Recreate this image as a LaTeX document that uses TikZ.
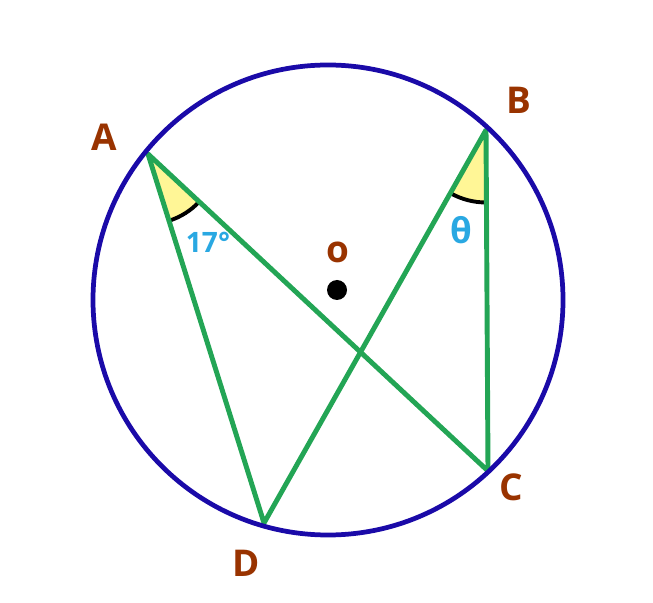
\documentclass[tikz,border=0pt]{standalone}
\usepackage{fontspec}
\setmainfont{Open Sans}
\usetikzlibrary{angles}
\definecolor{ringblue}{RGB}{26,10,168}
\definecolor{chordgreen}{RGB}{35,165,85}
\definecolor{ptbrown}{RGB}{153,51,0}
\definecolor{angblue}{RGB}{41,168,226}
\definecolor{angyellow}{RGB}{255,246,150}
\begin{document}
\begin{tikzpicture}[chord/.style={draw=chordgreen, line width=2.8pt, line join=round},
		ptlabel/.style={text=ptbrown, font=\fontsize{21}{25}\selectfont\bfseries, inner sep=0pt},
		anglabel/.style={text=angblue, font=\fontsize{16}{19}\selectfont\bfseries, inner sep=0pt},
		angmark/.style={draw=black, line width=2.2pt, fill=angyellow, angle radius=1.4cm} ]
	\useasboundingbox (0,0) rectangle (13.06,12.04);
	\coordinate (O) at (6.56,6.04);
	\coordinate (A) at (2.96,8.96);
	\coordinate (B) at (9.72,9.44);
	\coordinate (C) at (9.76,2.62);
	\coordinate (D) at (5.28,1.58);
	\pic[angmark] {angle=D--A--C};
	\pic[angmark, angle radius=1.45cm] {angle=D--B--C};
	\draw[chord] (D) -- (A) -- (C) -- (B) -- cycle;
	\draw[ringblue, line width=2.7pt] (O) circle (4.70);
	\fill (6.74,6.24) circle (0.2);
	\node[ptlabel] (la) at (2.08,9.30) {A};
	\node[ptlabel] (lb) at (10.38,10.04) {B};
	\node[ptlabel] (lc) at (10.22,2.30) {C};
	\node[ptlabel] (ld) at (4.92,0.78) {D};
	\node[ptlabel] (lo) at (6.76,7.00) {o};
	\node[anglabel] (l17) at (4.16,7.20) {17°};
	\node[anglabel, font=\fontsize{20}{24}\selectfont\bfseries] (lth) at (9.22,7.44) {θ};
\end{tikzpicture}
\end{document}
